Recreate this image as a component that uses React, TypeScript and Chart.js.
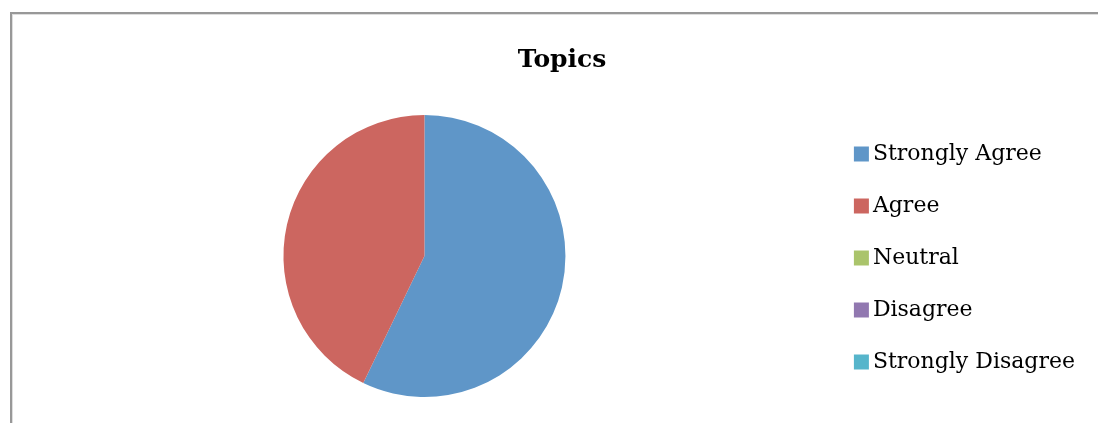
import React, { useEffect, useRef } from 'react';
import { Chart, registerables } from 'chart.js';

Chart.register(...registerables);

const TITLE = 'Topics';
const categories = ['Strongly Agree', 'Agree', 'Neutral', 'Disagree', 'Strongly Disagree'];
const values = [4, 3, 0, 0, 0];
const colors = ['#5F96C8', '#CC6660', '#AAC46B', '#9178B0', '#56B5CB'];

export default function App() {
  const ref = useRef<HTMLCanvasElement>(null);

  useEffect(() => {
    const titlePlugin = {
      id: 'frameTitle',
      afterDraw(chart: any) {
        const ctx = chart.ctx;
        ctx.save();
        ctx.font = 'bold 25px "DejaVu Serif"';
        ctx.fillStyle = '#000';
        ctx.textAlign = 'center';
        ctx.textBaseline = 'alphabetic';
        ctx.fillText(TITLE, 562, 67);
        ctx.restore();
      },
    };
    const chart = new Chart(ref.current!, {
      type: 'pie',
      data: {
        labels: categories,
        datasets: [
          {
            data: values,
            backgroundColor: colors,
            borderWidth: 0,
            radius: 141,
          } as any,
        ],
      },
      options: {
        responsive: false,
        animation: false,
        layout: { padding: { left: 18, right: 13, top: 100, bottom: 11 } },
        plugins: {
          title: { display: false },
          tooltip: { enabled: false },
          legend: {
            position: 'right',
            title: {
              display: true,
              text: '',
              padding: 1,
              font: { size: 2, lineHeight: 1 },
            },
            labels: {
              usePointStyle: true,
              pointStyle: 'rect',
              boxWidth: 1,
              boxHeight: 15,
              padding: 30,
              color: '#000',
              font: { family: '"DejaVu Serif"', size: 22 },
            },
          },
        },
      },
      plugins: [titlePlugin],
    });
    return () => chart.destroy();
  }, []);

  return (
    <div
      style={{
        position: 'fixed',
        left: 0,
        top: 0,
        width: 1098,
        height: 423,
        background: '#fff',
        overflow: 'hidden',
      }}
    >
      <div
        style={{
          position: 'absolute',
          left: 10,
          top: 12,
          width: 1200,
          height: 500,
          borderLeft: '2px solid #989898',
          borderTop: '2px solid #989898',
          boxShadow: 'inset 1px 1px 0 #dedede',
        }}
      />
      <canvas
        ref={ref}
        width={1098}
        height={423}
        style={{ position: 'absolute', left: 0, top: 0, width: 1098, height: 423 }}
      />
    </div>
  );
}
